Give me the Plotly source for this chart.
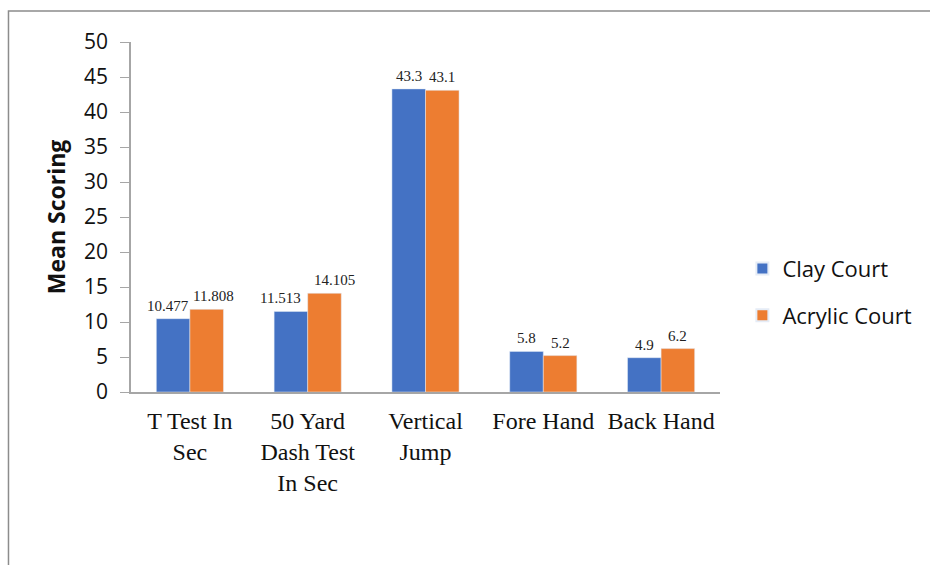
import plotly.graph_objects as go

# Mean scores per test on each court surface
categories = ["T Test In<br>Sec", "50 Yard<br>Dash Test<br>In Sec", "Vertical<br>Jump", "Fore Hand", "Back Hand"]
clay_court = [10.477, 11.513, 43.3, 5.8, 4.9]
acrylic_court = [11.808, 14.105, 43.1, 5.2, 6.2]
y_ticks = [0, 5, 10, 15, 20, 25, 30, 35, 40, 45, 50]

BLUE = "#4472C4"
ORANGE = "#ED7D31"
SANS = "Open Sans, Liberation Sans, sans-serif"
SERIF = "Liberation Serif, Times New Roman, serif"

# Layout geometry (pixels) used to place value labels over each bar
MARGIN = dict(l=131, r=210, t=42, b=173, pad=0)
WIDTH, HEIGHT = 930, 565
BARGAP = 0.43
plot_w = WIDTH - MARGIN["l"] - MARGIN["r"]
bar_w = plot_w / len(categories) * (1 - BARGAP) / 2
# horizontal nudges keep neighbouring value labels from colliding
nudge_clay = [-5, -10, 0, 0, 0]
nudge_acrylic = [7, 10, 0, 0, 0]

fig = go.Figure()
for name, vals, color in [("Clay Court", clay_court, BLUE), ("Acrylic Court", acrylic_court, ORANGE)]:
    fig.add_trace(go.Bar(
        name=name, x=categories, y=vals, marker_color=color, legendgroup=name,
    ))

annotations = []
for vals, side, nudges in [(clay_court, -1, nudge_clay), (acrylic_court, 1, nudge_acrylic)]:
    for cat, v, n in zip(categories, vals, nudges):
        annotations.append(dict(
            x=cat, y=v, xref="x", yref="y", text=f"{v:g}", showarrow=False,
            xanchor="center", yanchor="bottom", xshift=side * bar_w / 2 + n, yshift=3,
            font=dict(family=SERIF, size=15, color="#222222"),
        ))

fig.update_layout(
    width=WIDTH, height=HEIGHT,
    margin=MARGIN,
    paper_bgcolor="white", plot_bgcolor="white",
    barmode="group", bargap=BARGAP, bargroupgap=0,
    annotations=annotations,
    legend=dict(
        x=1.038, y=0.412, xanchor="left", yanchor="top",
        font=dict(family=SANS, size=22, color="#111111"),
        tracegroupgap=15, itemsizing="constant",
        bgcolor="rgba(0,0,0,0)",
    ),
    xaxis=dict(
        showline=True, linecolor="#A6A6A6", linewidth=1.5,
        ticks="", ticklabelstandoff=6,
        tickfont=dict(family=SERIF, size=24, color="#111111"),
        showgrid=False,
    ),
    yaxis=dict(
        range=[0, 50], tickvals=y_ticks,
        showline=True, linecolor="#A6A6A6", linewidth=1.5,
        ticks="outside", ticklen=9, tickcolor="#A6A6A6",
        ticklabelstandoff=8,
        tickfont=dict(family=SANS, size=21, color="#111111"),
        showgrid=False, zeroline=False,
        title=dict(text="<b>Mean Scoring</b>", standoff=12,
                   font=dict(family=SANS, size=23, color="#111111")),
    ),
    shapes=[dict(
        type="rect", xref="paper", yref="paper",
        x0=-0.208, x1=2.0, y0=-2.0, y1=1.0887,
        line=dict(color="#8C8C8C", width=1.5), fillcolor="rgba(0,0,0,0)",
        layer="below",
    )],
)

fig.write_html("out.html")
